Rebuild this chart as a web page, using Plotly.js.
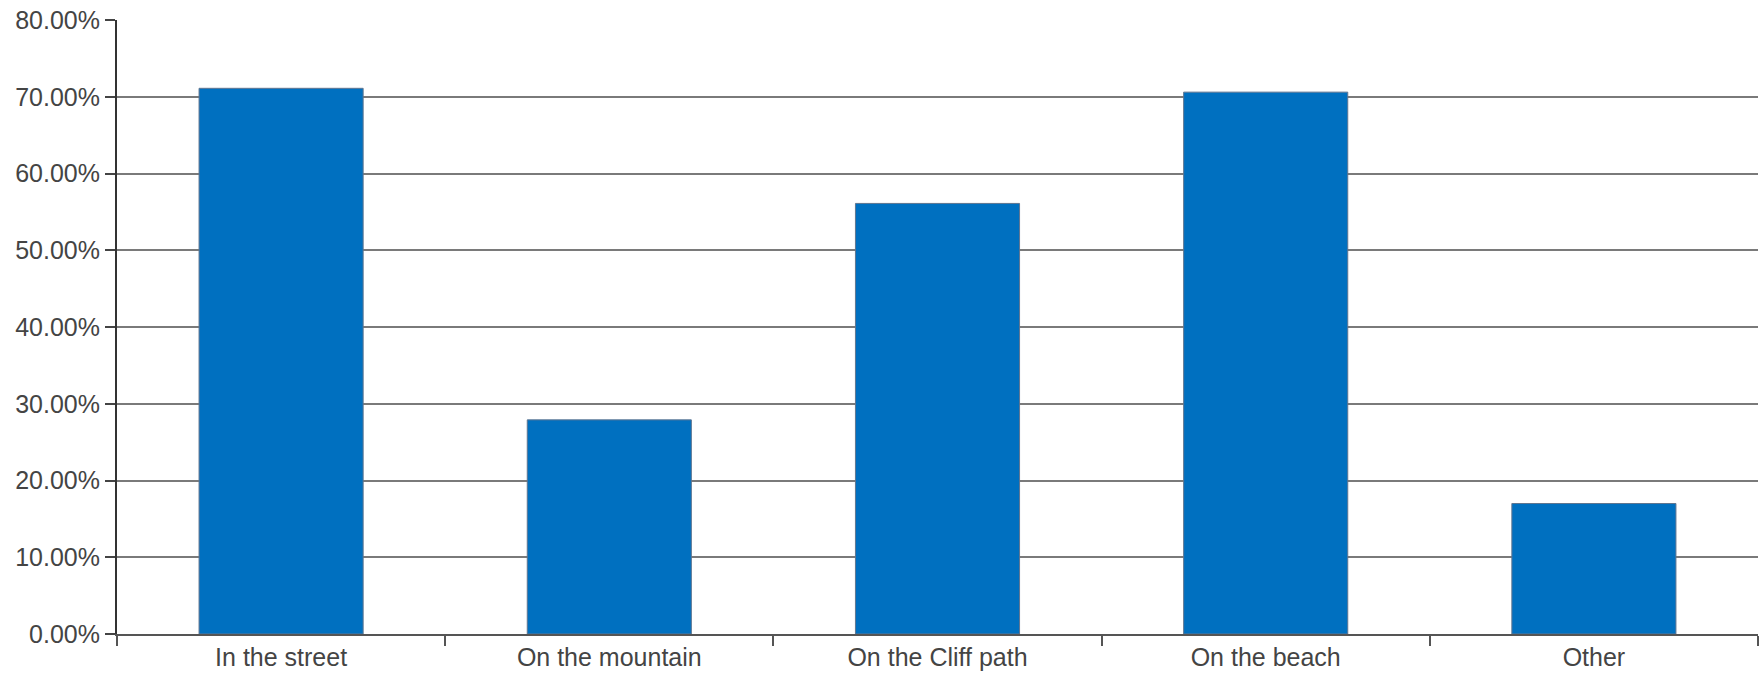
<!DOCTYPE html>
<html>
<head>
<meta charset="utf-8">
<script src="https://cdn.plot.ly/plotly-3.0.1.min.js"></script>
<style>
html,body{margin:0;padding:0;background:#fff;}
#chart{width:1762px;height:678px;}
</style>
</head>
<body>
<div id="chart"></div>
<script>
const categories = ["In the street", "On the mountain", "On the Cliff path", "On the beach", "Other"];
const shares = [0.711, 0.279, 0.561, 0.706, 0.170];
const yTicks = [0, 0.1, 0.2, 0.3, 0.4, 0.5, 0.6, 0.7, 0.8];

const trace = {
  type: 'bar',
  x: categories,
  y: shares,
  width: 0.5,
  marker: {color: '#0070C0', line: {color: '#5f7590', width: 1}},
  hoverinfo: 'x+y'
};

const layout = {
  width: 1762,
  height: 678,
  margin: {l: 117, r: 4, t: 20, b: 44},
  paper_bgcolor: '#fff',
  plot_bgcolor: '#fff',
  showlegend: false,
  font: {family: 'Liberation Sans, Arial, sans-serif', size: 25, color: '#444'},
  xaxis: {
    type: 'category',
    showline: true,
    linecolor: '#555',
    linewidth: 2,
    ticks: 'outside',
    tickson: 'boundaries',
    ticklen: 10,
    tickwidth: 2,
    tickcolor: '#555',
    showgrid: false,
    tickfont: {size: 25, color: '#444'},
    fixedrange: true
  },
  yaxis: {
    range: [0, 0.8],
    tickvals: yTicks,
    tickformat: '.2%',
    showline: true,
    linecolor: '#333',
    linewidth: 2,
    ticks: 'outside',
    ticklen: 10,
    tickwidth: 2,
    tickcolor: '#444',
    showgrid: true,
    gridcolor: '#7a7a7a',
    gridwidth: 2,
    zeroline: false,
    tickfont: {size: 25, color: '#444'},
    fixedrange: true
  }
};

Plotly.newPlot('chart', [trace], layout, {displayModeBar: false, staticPlot: true});
</script>
</body>
</html>
